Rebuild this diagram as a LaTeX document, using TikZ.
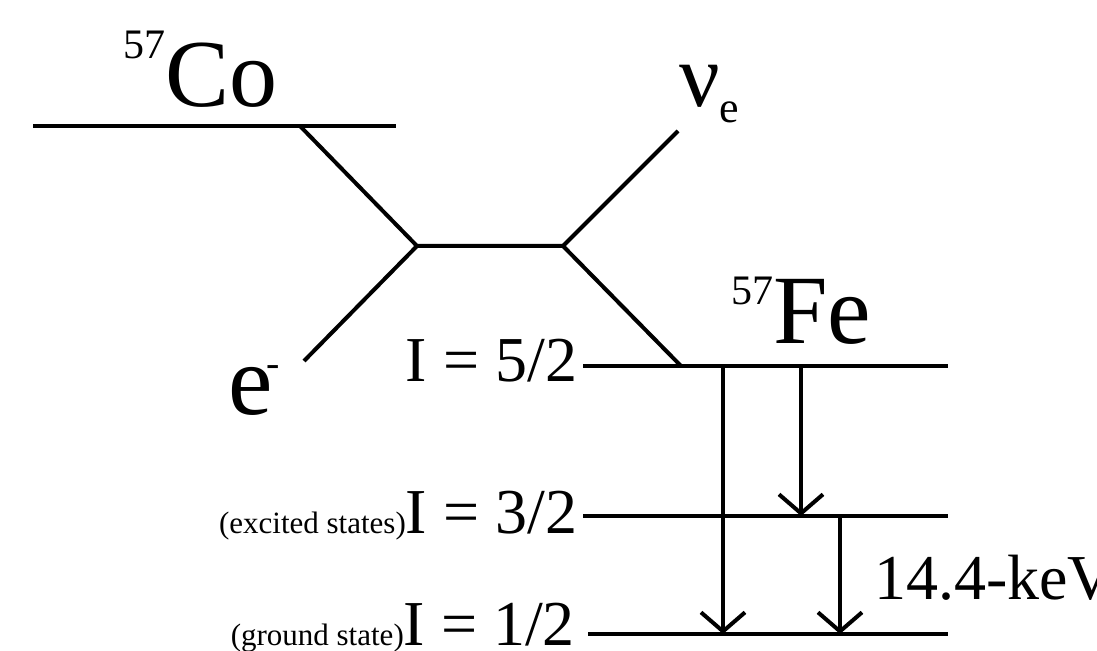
\documentclass[tikz,border=0pt]{standalone}
\usepackage{fontspec}
\setmainfont{Liberation Serif}
\usetikzlibrary{arrows.meta}
\newcommand{\fsz}[1]{\fontsize{#1}{#1}\selectfont}

\begin{document}
\begin{tikzpicture}[x=0.5pt, y=-0.5pt, line width=2pt,
    decay/.style={-{Straight Barb[length=9.5pt, width=22pt, line width=2pt, line cap=butt, line join=miter]}},
    lbl/.style={inner sep=0pt, anchor=base west},
    lblr/.style={inner sep=0pt, anchor=base east}]
    % 1. Page size
    \useasboundingbox (0,0) rectangle (1097,651);

    % 2. Points of the levels and branches
    \coordinate (coL) at (33,126);
    \coordinate (coR) at (396,126);
    \coordinate (coJ) at (300,126);
    \coordinate (vL) at (417,246);
    \coordinate (vR) at (563,246);
    \coordinate (eEnd) at (304,361);
    \coordinate (nuEnd) at (678,131);
    \coordinate (feJ) at (681,366);
    \coordinate (fiveL) at (583,366);
    \coordinate (fiveR) at (948,366);
    \coordinate (threeL) at (583,516);
    \coordinate (threeR) at (948,516);
    \coordinate (oneL) at (588,634);
    \coordinate (oneR) at (948,634);

    % 3. Co level and decay branches
    \draw (coL) -- (coR);
    \draw (coJ) -- (vL) -- (vR) -- (feJ);
    \draw (vL) -- (eEnd);
    \draw (vR) -- (nuEnd);

    % 4. Fe levels
    \draw (fiveL) -- (fiveR);
    \draw (threeL) -- (threeR);
    \draw (oneL) -- (oneR);

    % 5. Transitions
    \coordinate (aTop) at (723,366);
    \coordinate (aBot) at (723,634);
    \coordinate (bTop) at (801,366);
    \coordinate (bBot) at (801,516);
    \coordinate (cTop) at (840,516);
    \coordinate (cBot) at (840,634);
    \draw[decay] (aTop) -- (aBot);
    \draw[decay] (bTop) -- (bBot);
    \draw[decay] (cTop) -- (cBot);

    % 6. Labels
    \node[lbl] (co) at (121,107) {\raisebox{24pt}{\fsz{21}57}\fsz{48}Co};
    \node[lbl] (fe) at (729,344) {\raisebox{19.5pt}{\fsz{21}57}\fsz{49}Fe};
    \node[lbl] (nu) at (677,107) {\fsz{45}ν\raisebox{-8pt}{\fsz{22}e}};
    \node[lbl] (el) at (226,415) {\fsz{50}e\kern-3pt\raisebox{19pt}{\fsz{20}-}};
    \node[lblr] (five) at (579,382) {\fsz{32}I = 5/2};
    \node[lblr] (three) at (579,533) {{\fsz{15.5}(excited states)}\fsz{32}I = 3/2};
    \node[lblr] (one) at (577,645) {{\fsz{15.5}(ground state)}\fsz{32}I = 1/2};
    \node[lbl] (kev) at (872,599) {\fsz{32}14.4-keV};
\end{tikzpicture}
\end{document}
